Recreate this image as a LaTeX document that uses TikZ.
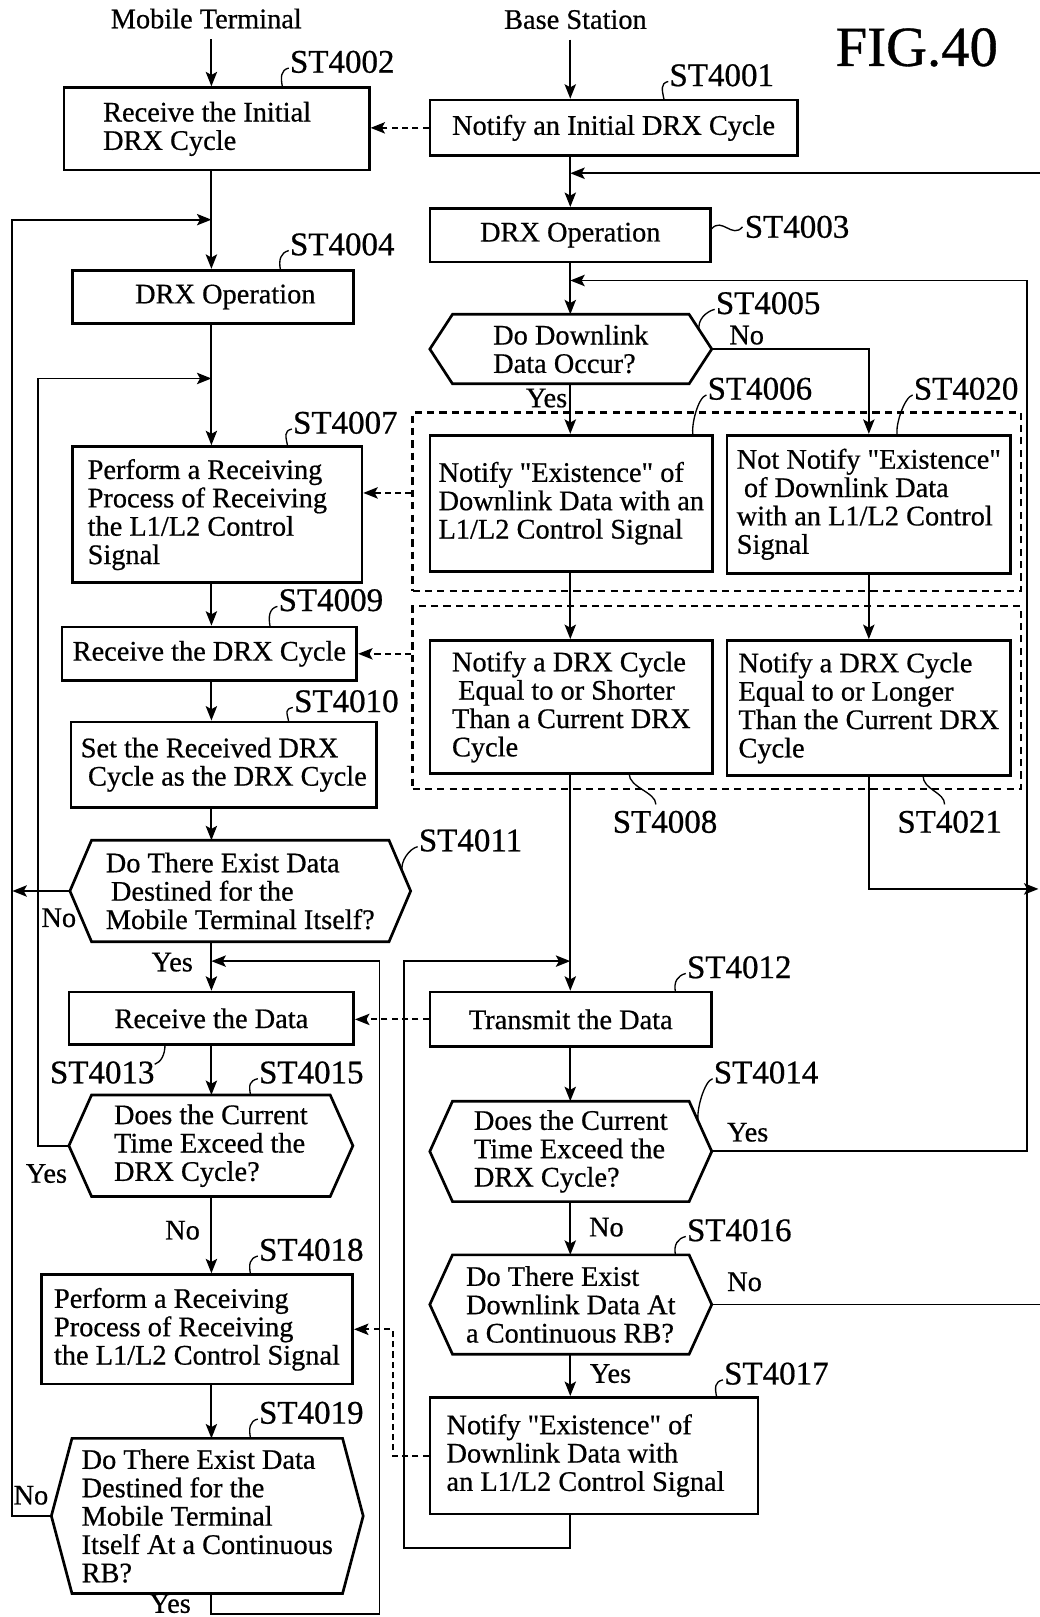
\documentclass[tikz,border=0pt]{standalone}
\usepackage{fontspec}
\setmainfont{Liberation Serif}[Ligatures=TeXOff,FakeBold=0.6]
\usetikzlibrary{arrows.meta,calc}
\newcommand\bodyfont{\fontsize{27.5}{27.5}\selectfont}
\newcommand\stfont{\fontsize{32}{32}\selectfont}
\newcommand\drawhex[2]{\draw[hexline] ($(#1.north west)+(#2,0)$) -- ($(#1.north east)+(-#2,0)$) -- (#1.east) -- ($(#1.south east)+(-#2,0)$) -- ($(#1.south west)+(#2,0)$) -- (#1.west) -- cycle;}
\newcommand\tlead[3]{\draw[leadl] ($(#1.west)+(#2,#3)$) .. controls +(-2,-10) and +(-8,2) .. ($(#1.west)+(-1,6)$);}
\begin{document}
\begin{tikzpicture}[x=1pt,y=-1pt,
  box/.style={draw,line width=2.6pt,inner sep=0pt,align=left,font=\bodyfont},
  hexnode/.style={inner sep=0pt,align=left,font=\bodyfont},
  hexline/.style={line width=2.6pt,line join=miter},
  arr/.style={line width=1.8pt,-{Stealth[length=14pt,width=11pt,inset=3pt]}},
  conn/.style={line width=1.8pt},
  dasharr/.style={line width=1.8pt,dash pattern=on 6pt off 4pt,-{Stealth[length=14pt,width=11pt,inset=3pt]}},
  grp/.style={draw,line width=2pt,dash pattern=on 7pt off 5pt,inner sep=0pt},
  st/.style={font=\stfont,inner sep=0pt,anchor=west},
  yn/.style={font=\bodyfont,inner sep=0pt},
  leadl/.style={line width=1.3pt}
]
\useasboundingbox (0,0) rectangle (1008,1568);

% column coordinates and junctions
\coordinate (cMT) at (205,0);
\coordinate (cBS) at (553,0);
\coordinate (jA) at (205,213);
\coordinate (jB) at (205,367);
\coordinate (jC) at (205,932);
\coordinate (kC) at (368,932);
\coordinate (jD) at (553,168);
\coordinate (jE) at (553,272);
\coordinate (jF) at (553,932);
\coordinate (kF) at (392,932);
\coordinate (eA) at (1008,168);
\coordinate (eB) at (1007,862);
\coordinate (eC) at (1008,1265);
\coordinate (eD) at (12,864);
\coordinate (yd1) at (0,478);

% headers
\node[font=\bodyfont,inner sep=0pt] (hmt) at (200,18) {Mobile Terminal};
\node[font=\bodyfont,inner sep=0pt] (hbs) at (558,19) {Base Station};
\node[font=\fontsize{55}{55}\selectfont,inner sep=0pt] (fig) at (889,46) {FIG.40};

% dashed groups
\node[grp,minimum width=590pt,minimum height=173pt] (g1) at (695,486.5) {};
\node[grp,minimum width=590pt,minimum height=177pt] (g2) at (695,676.5) {};

% mobile terminal boxes
\node[box,align=flush left,inner xsep=38pt,text width=220pt,minimum height=80pt] (s4002) at (210,125) {Receive the Initial\\DRX Cycle};
\node[box,minimum width=273pt,minimum height=52pt] (s4004) at (206.5,288) {\hspace*{24pt}DRX Operation};
\node[box,align=flush left,inner xsep=15pt,text width=251pt,minimum height=132pt] (s4007) at (210.5,499) {Perform a Receiving\\Process of Receiving\\the L1/L2 Control\\Signal};
\node[box,minimum width=286pt,minimum height=52pt] (s4009) at (203,634) {Receive the DRX Cycle};
\node[box,minimum width=296pt,minimum height=83pt] (s4010) at (217,741.5) {Set the Received DRX\\\hspace*{7pt}Cycle as the DRX Cycle};
\node[hexnode,minimum width=330pt,minimum height=98pt] (s4011) at (233,864) {Do There Exist Data\\\hspace*{5pt}Destined for the\\Mobile Terminal Itself?};
\node[box,minimum width=276pt,minimum height=51pt] (s4013) at (205,987.5) {Receive the Data};
\node[hexnode,minimum width=275pt,minimum height=98pt] (s4015) at (204.5,1111) {Does the Current\\Time Exceed the\\DRX Cycle?};
\node[box,minimum width=302pt,minimum height=106pt] (s4018) at (191,1289) {Perform a Receiving\\Process of Receiving\\the L1/L2 Control Signal};
\node[hexnode,minimum width=302pt,minimum height=150pt] (s4019) at (201,1470) {Do There Exist Data\\Destined for the\\Mobile Terminal\\Itself At a Continuous\\RB?};

% base station boxes
\node[box,minimum width=356pt,minimum height=54pt] (s4001) at (595,124) {Notify an Initial DRX Cycle};
\node[box,minimum width=272pt,minimum height=52pt] (s4003) at (553,228) {DRX Operation};
\node[hexnode,minimum width=273pt,minimum height=67pt] (s4005) at (553.5,338.5) {Do Downlink\\Data Occur?\hspace*{8pt}};
\node[box,minimum width=274pt,minimum height=132pt] (s4006) at (554,488) {Notify "Existence" of\\Downlink Data with an\\L1/L2 Control Signal};
\node[box,minimum width=275pt,minimum height=134pt] (s4020) at (842.5,489) {Not Notify "Existence"\\\hspace*{7pt}of Downlink Data\\with an L1/L2 Control\\Signal};
\node[box,minimum width=274pt,minimum height=129pt] (s4008) at (554,685.5) {Notify a DRX Cycle\\\hspace*{6pt}Equal to or Shorter\\Than a Current DRX\\Cycle};
\node[box,minimum width=275pt,minimum height=131pt] (s4021) at (842.5,686.5) {Notify a DRX Cycle\\Equal to or Longer\\Than the Current DRX\\Cycle};
\node[box,minimum width=273pt,minimum height=53pt] (s4012) at (553.5,988.5) {Transmit the Data};
\node[hexnode,minimum width=273pt,minimum height=97pt] (s4014) at (553.5,1116.5) {Does the Current\\Time Exceed the\\DRX Cycle?};
\node[hexnode,minimum width=273pt,minimum height=96pt] (s4016) at (553.5,1265) {Do There Exist\\Downlink Data At\\a Continuous RB?};
\node[box,align=flush left,inner xsep=16pt,text width=286pt,minimum height=113pt] (s4017) at (576,1411.5) {Notify "Existence" of\\Downlink Data with\\an L1/L2 Control Signal};

% hexagon outlines
\drawhex{s4005}{22}
\drawhex{s4011}{21}
\drawhex{s4015}{22}
\drawhex{s4019}{20}
\drawhex{s4014}{22}
\drawhex{s4016}{22}

% step labels
\node[st] (l4002) at (281,60) {ST4002};
\node[st] (l4001) at (649,73) {ST4001};
\node[st] (l4003) at (722,220) {ST4003};
\node[st] (l4004) at (281,237) {ST4004};
\node[st] (l4005) at (694,294) {ST4005};
\node[st] (l4006) at (686,377) {ST4006};
\node[st] (l4020) at (886,377) {ST4020};
\node[st] (l4007) at (284,410) {ST4007};
\node[st] (l4009) at (270,582) {ST4009};
\node[st] (l4010) at (285,680) {ST4010};
\node[st] (l4008) at (594,797) {ST4008};
\node[st] (l4021) at (870,797) {ST4021};
\node[st] (l4011) at (406,815) {ST4011};
\node[st] (l4012) at (666,938) {ST4012};
\node[st,anchor=east] (l4013) at (150,1040) {ST4013};
\node[st] (l4015) at (251,1040) {ST4015};
\node[st] (l4014) at (692,1040) {ST4014};
\node[st] (l4016) at (666,1193) {ST4016};
\node[st] (l4018) at (251,1212) {ST4018};
\node[st] (l4017) at (702,1332) {ST4017};
\node[st] (l4019) at (251,1370) {ST4019};

% leaders
\tlead{l4002}{-7}{25}
\tlead{l4001}{-5}{24}
\tlead{l4004}{-9}{25}
\tlead{l4005}{-16}{26}
\tlead{l4006}{-14}{45}
\tlead{l4020}{-16}{45}
\tlead{l4007}{-5}{23}
\tlead{l4009}{-8}{26}
\tlead{l4010}{-5}{20}
\tlead{l4011}{-16}{30}
\tlead{l4012}{-11}{24}
\tlead{l4015}{-8}{22}
\tlead{l4014}{-15}{47}
\tlead{l4016}{-11}{24}
\tlead{l4018}{-8}{24}
\tlead{l4017}{-7}{23}
\tlead{l4019}{-8}{25}
\draw[leadl] ($(l4003.west)+(-32,2)$) .. controls +(10,-12) and +(-10,12) .. ($(l4003.west)+(-2,0)$);
\draw[leadl] ($(l4008.west)+(16,-47)$) .. controls +(0,14) and +(0,-12) .. ($(l4008.west)+(42,-17)$);
\draw[leadl] ($(l4021.west)+(25,-45)$) .. controls +(0,14) and +(0,-12) .. ($(l4021.west)+(46,-17)$);
\draw[leadl] ($(l4013.east)+(10,-27)$) .. controls +(0,10) and +(6,-2) .. ($(l4013.east)+(0,-8)$);

% yes / no labels
\node[yn] (y4005) at (530,386) {Yes};
\node[yn] (n4005) at (724,325) {No};
\node[yn] (n4011) at (57,890) {No};
\node[yn] (y4011) at (167,933) {Yes};
\node[yn] (y4015) at (45,1138) {Yes};
\node[yn] (n4015) at (177,1193) {No};
\node[yn] (n4019) at (30,1450) {No};
\node[yn] (y4019) at (165,1555) {Yes};
\node[yn] (y4014) at (725,1098) {Yes};
\node[yn] (n4014) at (588,1190) {No};
\node[yn] (n4016) at (722,1243) {No};
\node[yn] (y4016) at (592,1332) {Yes};

% mobile terminal flow
\draw[arr] ($(hmt.south -| cMT)+(0,10)$) -- (s4002.north -| cMT);
\draw[conn] (s4002.south -| cMT) -- (jA);
\draw[arr] (jA) -- (s4004.north -| cMT);
\draw[arr] (s4019.west) -- ++(-38,0) |- (jA);
\draw[conn] (s4004.south -| cMT) -- (jB);
\draw[arr] (jB) -- (s4007.north -| cMT);
\draw[arr] (s4015.west) -- ++(-30,0) |- (jB);
\draw[arr] (s4007.south -| cMT) -- (s4009.north -| cMT);
\draw[arr] (s4009.south -| cMT) -- (s4010.north -| cMT);
\draw[arr] (s4010.south -| cMT) -- (s4011.north -| cMT);
\draw[arr] (s4011.west) -- (eD);
\draw[conn] (s4011.south -| cMT) -- (jC);
\draw[arr] (jC) -- (s4013.north -| cMT);
\draw[arr] (s4019.south -| cMT) -- ++(0,20) -| (kC) -- (jC);
\draw[arr] (s4013.south -| cMT) -- (s4015.north -| cMT);
\draw[arr] (s4015.south -| cMT) -- (s4018.north -| cMT);
\draw[arr] (s4018.south -| cMT) -- (s4019.north -| cMT);

% base station flow
\draw[arr] ($(hbs.south -| cBS)+(0,10)$) -- (s4001.north -| cBS);
\draw[conn] (s4001.south -| cBS) -- (jD);
\draw[arr] (jD) -- (s4003.north -| cBS);
\draw[arr] (eA) -- (jD);
\draw[conn] (s4003.south -| cBS) -- (jE);
\draw[arr] (jE) -- (s4005.north -| cBS);
\draw[arr] (s4014.east) -- ++(306,0) |- (jE);
\draw[arr] (s4005.east) -| (s4020.north);
\draw[arr] (s4005.south -| cBS) -- (s4006.north -| cBS);
\draw[arr] (s4006.south -| cBS) -- (s4008.north -| cBS);
\draw[arr] (s4020.south) -- (s4021.north);
\draw[arr] (s4021.south) |- (eB);
\draw[conn] (s4008.south -| cBS) -- (jF);
\draw[arr] (jF) -- (s4012.north -| cBS);
\draw[arr] (s4017.south -| cBS) -- ++(0,32) -| (kF) -- (jF);
\draw[arr] (s4012.south -| cBS) -- (s4014.north -| cBS);
\draw[arr] (s4014.south -| cBS) -- (s4016.north -| cBS);
\draw[conn] (s4016.east) -- (eC);
\draw[arr] (s4016.south -| cBS) -- (s4017.north -| cBS);

% dashed messages
\draw[dasharr] (s4001.west) -- (s4001.west -| s4002.east);
\draw[dasharr] (g1.west |- yd1) -- (yd1 -| s4007.east);
\draw[dasharr] (g2.west |- s4009.east) -- (s4009.east);
\draw[dasharr] (s4012.west) -- (s4012.west -| s4013.east);
\draw[dasharr] (s4017.west) -- ++(-35,0) |- (s4018.east);
\end{tikzpicture}
\end{document}
